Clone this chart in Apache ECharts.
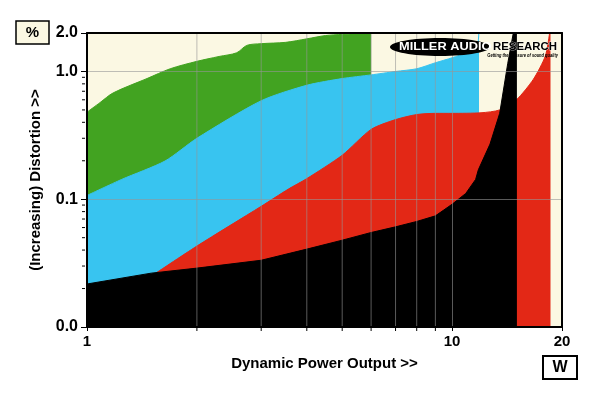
<!DOCTYPE html>
<html><head><meta charset="utf-8">
<script src="https://cdn.jsdelivr.net/npm/echarts@6/dist/echarts.min.js"></script>
<style>html,body{margin:0;padding:0;background:#fff}#c{width:600px;height:393px}</style>
</head><body><div id="c"></div>
<script>
// ---- data (W vs % distortion) ----
const greenW   = [1, 1.085, 1.18, 1.46, 1.69, 2, 2.3, 2.57, 2.74, 3, 3.5, 4, 4.5, 5, 6.0];
const greenPct = [0.48, 0.57, 0.68, 0.88, 1.05, 1.20, 1.31, 1.40, 1.60, 1.65, 1.69, 1.80, 1.91, 1.95, 1.98];

const cyanW   = [1, 1.245, 1.635, 2, 3, 4, 5, 6, 7, 8, 9, 10, 11.0, 11.7, 11.85];
const cyanPct = [0.107, 0.143, 0.199, 0.30, 0.59, 0.78, 0.88, 0.94, 1.0, 1.05, 1.17, 1.28, 1.41, 1.55, 2.2];

const redW   = [1.5, 2, 3, 3.56, 4, 5, 6, 7, 8, 9, 10, 12, 13.5, 15, 16.7, 18, 18.5, 18.6];
const redPct = [0.025, 0.043, 0.088, 0.12, 0.145, 0.221, 0.352, 0.42, 0.46, 0.47, 0.47, 0.475, 0.50, 0.60, 0.87, 1.32, 2.0, 2.3];

const blackW   = [1, 1.5, 2, 3, 4, 5, 6, 7, 8, 9, 10, 10.9, 11.6, 11.8, 12.7, 13.5, 14.2, 14.8, 15.05];
const blackPct = [0.0217, 0.0264, 0.0289, 0.0333, 0.0407, 0.0478, 0.0549, 0.0608, 0.067, 0.0741, 0.0914, 0.111, 0.143, 0.17, 0.27, 0.47, 1.15, 2.2, 2.6];

const xMin = 1, xMax = 20, yMin = 0.01, yMax = 2;
const xMinorTicks = [2, 3, 4, 5, 6, 7, 8, 9];
const yMinorTicks = [0.02, 0.03, 0.04, 0.05, 0.06, 0.07, 0.08, 0.09, 0.2, 0.3, 0.4, 0.5, 0.6, 0.7, 0.8, 0.9];
const yTickValues = [0.01, 0.1, 1, 2];
const yTickLabels = ['0.0', '0.1', '1.0', '2.0'];

const FONT = '"Liberation Sans", Arial, sans-serif';
const GRID_COLOR = 'rgba(150,150,150,0.6)';
const CREAM = '#fbf8e3';

function pairs(w, p) { return w.map((x, i) => [x, p[i]]); }
function area(name, w, p, color, z, smooth) {
  return {
    type: 'line', name, data: pairs(w, p), symbol: 'none', showSymbol: false,
    smooth: smooth,
    lineStyle: { color, width: 1 }, areaStyle: { color, opacity: 1, origin: 'start' },
    z, silent: true, clip: true, animation: false
  };
}

const chart = echarts.init(document.getElementById('c'), null, { renderer: 'canvas' });
chart.setOption({
  animation: false,
  backgroundColor: '#fff',
  grid: { left: 87, right: 38, top: 33, bottom: 66, show: true, backgroundColor: CREAM, borderWidth: 0 },
  xAxis: [{
    type: 'log', min: xMin, max: xMax, z: 10,
    name: 'Dynamic Power Output >>', nameLocation: 'middle', nameGap: 29,
    nameTextStyle: { fontFamily: FONT, fontWeight: 'bold', fontSize: 15, color: '#000' },
    axisLine: { show: true, lineStyle: { color: '#000', width: 2 } },
    axisTick: { show: true, length: 4, lineStyle: { color: '#000' } },
    axisLabel: { fontFamily: FONT, fontWeight: 'bold', fontSize: 15, color: '#000', margin: 7,
      formatter: v => String(Math.round(v)) },
    splitLine: { show: true, lineStyle: { color: GRID_COLOR, width: 1 } }
  }, {
    type: 'log', min: xMin, max: xMax, position: 'top', z: 10,
    axisLine: { show: true, lineStyle: { color: '#000', width: 2 } },
    axisTick: { show: false }, axisLabel: { show: false }, splitLine: { show: false }
  }],
  yAxis: [{
    type: 'log', min: yMin, max: yMax, z: 10,
    name: '(Increasing) Distortion >>', nameLocation: 'middle', nameGap: 44,
    nameTextStyle: { fontFamily: FONT, fontWeight: 'bold', fontSize: 15, color: '#000' },
    axisLine: { show: true, lineStyle: { color: '#000', width: 2 } },
    axisTick: { show: true, length: 6, lineStyle: { color: '#000' } },
    axisLabel: { fontFamily: FONT, fontWeight: 'bold', fontSize: 16, color: '#000', margin: 9,
      formatter: v => {
        let best = 0, d = Infinity;
        yTickValues.forEach((t, i) => { const dd = Math.abs(Math.log10(v) - Math.log10(t)); if (dd < d) { d = dd; best = i; } });
        return yTickLabels[best];
      } },
    splitLine: { show: true, lineStyle: { color: GRID_COLOR, width: 1 } }
  }, {
    type: 'log', min: yMin, max: yMax, position: 'right', z: 10,
    axisLine: { show: true, lineStyle: { color: '#000', width: 2 } },
    axisTick: { show: false }, axisLabel: { show: false }, splitLine: { show: false }
  }],
  series: [
    area('green', greenW, greenPct, '#42a321', 2, 0.3),
    area('cyan', cyanW, cyanPct, '#38c4f0', 3, 0.25),
    area('red', redW, redPct, '#e32816', 4, 0.25),
    area('black', blackW, blackPct, '#000000', 5, false),
    {
      type: 'custom', z: 9, silent: true, animation: false,
      data: xMinorTicks.map(v => [v, yMin]),
      renderItem(params, api) {
        const v = api.value(0);
        const a = api.coord([v, yMin]);
        const b = api.coord([v, yMax]);
        return { type: 'group', children: [
          { type: 'line', shape: { x1: a[0], y1: a[1], x2: b[0], y2: b[1] }, style: { stroke: GRID_COLOR, lineWidth: 1 } },
          { type: 'line', shape: { x1: a[0], y1: a[1] + 1, x2: a[0], y2: a[1] + 4 }, style: { stroke: '#000', lineWidth: 1 } }
        ] };
      }
    },
    {
      type: 'custom', z: 9, silent: true, animation: false,
      data: yMinorTicks.map(v => [xMin, v]),
      renderItem(params, api) {
        const v = api.value(1);
        const a = api.coord([xMin, v]);
        return { type: 'line', shape: { x1: a[0] - 5, y1: a[1], x2: a[0] - 2, y2: a[1] }, style: { stroke: '#000', lineWidth: 1 } };
      }
    }
  ],
  graphic: [
    { type: 'rect', shape: { x: 16, y: 21, width: 33, height: 23 }, style: { fill: CREAM, stroke: '#000', lineWidth: 1.5 }, z: 20 },
    { type: 'text', x: 32.5, y: 33, style: { text: '%', font: 'bold 15px ' + FONT, fill: '#000', align: 'center', verticalAlign: 'middle' }, z: 21 },
    { type: 'rect', shape: { x: 543, y: 356, width: 34, height: 23 }, style: { fill: '#fff', stroke: '#000', lineWidth: 2 }, z: 20 },
    { type: 'text', x: 560, y: 368, style: { text: 'W', font: 'bold 16px ' + FONT, fill: '#000', align: 'center', verticalAlign: 'middle' }, z: 21 },
    { type: 'ellipse', shape: { cx: 440, cy: 47, rx: 50, ry: 9 }, style: { fill: '#000' }, z: 20 },
    { type: 'text', x: 399, y: 47, scaleX: 1.28, style: { text: 'MILLER AUDIO', font: 'bold 10px ' + FONT, fill: '#fff', verticalAlign: 'middle' }, z: 21 },
    { type: 'text', x: 493, y: 47, scaleX: 1.14, style: { text: 'RESEARCH', font: 'bold 10px ' + FONT, fill: '#000', stroke: '#fff', lineWidth: 0.6, verticalAlign: 'middle' }, z: 21 },
    { type: 'text', x: 558, y: 55.5, scaleX: 0.8, style: { text: 'Getting the measure of sound quality', font: 'italic bold 5px ' + FONT, fill: '#000', align: 'right', verticalAlign: 'middle' }, z: 21 }
  ]
});
</script>
</body></html>
